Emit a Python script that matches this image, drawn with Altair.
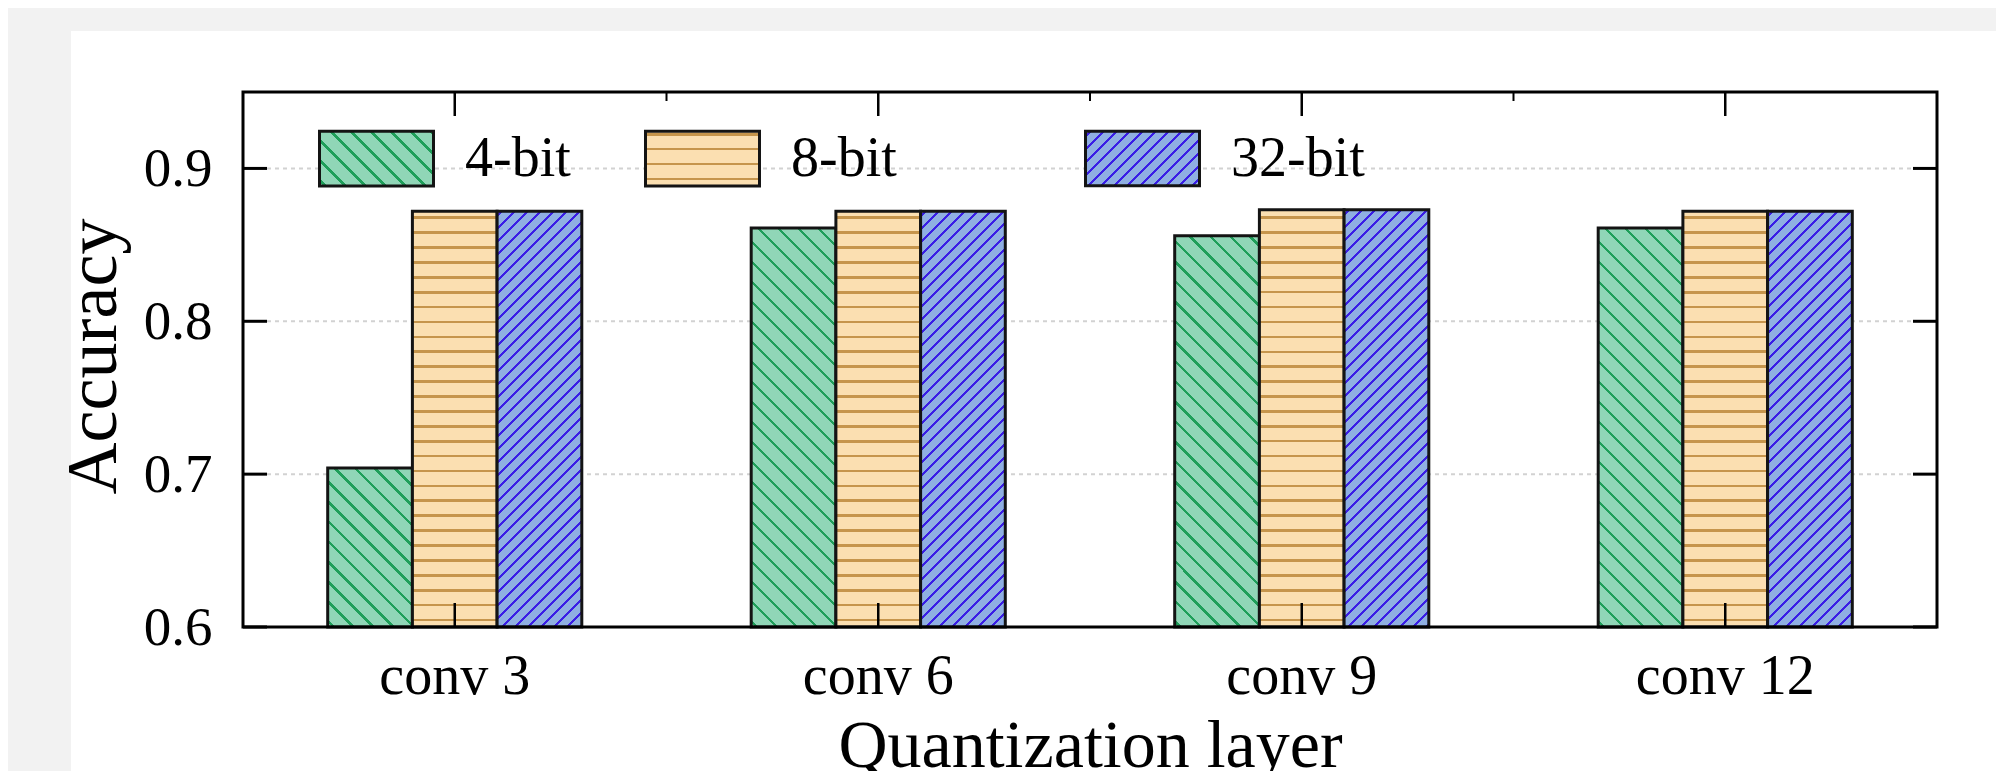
import json
import altair as alt
import pandas as pd

# ---------------- data ----------------
layers = ["conv 3", "conv 6", "conv 9", "conv 12"]
bits = ["4-bit", "8-bit", "32-bit"]
acc_4bit = [0.704, 0.861, 0.856, 0.861]
acc_8bit = [0.872, 0.872, 0.873, 0.872]
acc_32bit = [0.872, 0.872, 0.873, 0.872]
y_ticks = [0.6, 0.7, 0.8, 0.9]
grid_values = [0.7, 0.8, 0.9]

series = {"4-bit": acc_4bit, "8-bit": acc_8bit, "32-bit": acc_32bit}
rows = []
for b in bits:
    for l, v in zip(layers, series[b]):
        rows.append({"layer": l, "bits": b, "acc": v})
df = pd.DataFrame(rows)

# ---------------- layout / style ----------------
FONT = "Liberation Serif"
W, H = 1694, 535
YMIN, YMAX = 0.6, 0.95
P_IN, P_OUT = 0.4, 0.2
STEP = W / (len(layers) - P_IN + 2 * P_OUT)
BAR_W = STEP * (1 - P_IN) / len(bits)

GREEN_BG, GREEN_FG = "#90d6b7", "#1f9f5a"
TAN_BG, TAN_FG = "#fbdfb1", "#c6954c"
BLUE_BG, BLUE_FG = "#8fafe2", "#3a1ee6"
EDGE = "#141414"


def stripes(L, period, thick, bg, fg, phase):
    stops = [(0.0, bg)]
    c = phase
    while c - thick / 2 < L:
        a = max(0.0, (c - thick / 2) / L)
        b = min(1.0, (c + thick / 2) / L)
        if b > a:
            stops += [(a, bg), (a, fg), (b, fg), (b, bg)]
        c += period
    stops.append((1.0, bg))
    return [{"offset": round(o, 5), "color": col} for o, col in stops]


def grad_back(w, h):  # "\" hatch
    n = w * w + h * h
    dx = w * (w + h) / n
    dy = -h * (w + h) / n
    return {"gradient": "linear", "x1": 0, "y1": 1, "x2": round(dx, 5), "y2": round(1 + dy, 5),
            "stops": stripes(w + h, 20, 3.4, GREEN_BG, GREEN_FG, 6)}


def grad_horiz(w, h):  # "-" hatch, anchored at bottom
    return {"gradient": "linear", "x1": 0, "y1": 1, "x2": 0, "y2": 0,
            "stops": stripes(h, 14.9, 2.6, TAN_BG, TAN_FG, 7)}


def grad_fwd(w, h):  # "/" hatch
    c = (w + h) / (w * w + h * h)
    return {"gradient": "linear", "x1": 0, "y1": 0, "x2": round(w * c, 5), "y2": round(h * c, 5),
            "stops": stripes(w + h, 13, 3.0, BLUE_BG, BLUE_FG, 5)}


makers = {"4-bit": grad_back, "8-bit": grad_horiz, "32-bit": grad_fwd}


def bar_h(v):
    return (v - YMIN) / (YMAX - YMIN) * H


def bar_conditions(sel_bits):
    out = []
    for b in sel_bits:
        for l, v in zip(layers, series[b]):
            out.append({"test": f"datum.bits == '{b}' && datum.layer == '{l}'",
                        "value": makers[b](BAR_W, bar_h(v))})
    return out


SYM_W = 114
SYM_PATH = "M-1,-0.48L1,-0.48L1,0.48L-1,0.48Z"


def legend_range(sel_bits):
    return [{"expr": json.dumps(makers[b](SYM_W, SYM_W * 0.48))} for b in sel_bits]


xscale = alt.Scale(type="band", domain=layers, paddingInner=P_IN, paddingOuter=P_OUT)
yscale = alt.Scale(domain=[YMIN, YMAX], zero=False, nice=False)

xaxis = alt.Axis(title="Quantization layer", labelAngle=0, labelFont=FONT, labelFontSize=56,
                 labelColor="black", labelPadding=66, labelBaseline="alphabetic",
                 ticks=False, tickSize=0, domain=False, grid=False,
                 titleFont=FONT, titleFontSize=68, titleFontWeight="normal", titleColor="black",
                 titleX=W / 2, titleY=139, titleBaseline="alphabetic", titleAlign="center",
                 zindex=1)
yaxis = alt.Axis(title="Accuracy", values=y_ticks, format=".1f", labelFont=FONT, labelFontSize=55,
                 labelColor="black", labelPadding=31, labelFlush=False,
                 ticks=False, tickSize=0, domain=False, grid=False,
                 titleFont=FONT, titleFontSize=72, titleFontWeight="normal", titleColor="black",
                 titleAngle=270, titleX=-128, titleY=264, titleBaseline="alphabetic",
                 titleAlign="center", zindex=1)


def make_legend(x):
    return alt.Legend(orient="none", legendX=x, legendY=8, direction="horizontal", title=None,
                      labelFont=FONT, labelFontSize=56, labelColor="black", labelOffset=30,
                      labelLimit=600, columnPadding=68, symbolType=SYM_PATH,
                      symbolSize=SYM_W * SYM_W, symbolStrokeWidth=3, symbolStrokeColor=EDGE,
                      padding=0, zindex=1)


# ---------------- layers ----------------
card = alt.Chart(alt.Data(values=[{"k": 1}])).mark_rect(fill="white", strokeWidth=0).encode(
    x=alt.value(-172), x2=alt.value(W + 59), y=alt.value(-61), y2=alt.value(H + 200))

grid_df = pd.DataFrame({"v": grid_values})
grid = alt.Chart(grid_df).mark_rule(color="#d2d2d2", strokeWidth=2, strokeDash=[4, 4]).encode(
    y=alt.Y("v:Q", scale=yscale, axis=yaxis), x=alt.value(24), x2=alt.value(W - 24))


def bar_layer(sel_bits, legend_x):
    return alt.Chart(df).transform_filter(
        alt.FieldOneOfPredicate(field="bits", oneOf=sel_bits)
    ).mark_bar(stroke=EDGE, strokeWidth=3).encode(
        x=alt.X("layer:N", scale=xscale, sort=layers, axis=xaxis),
        xOffset=alt.XOffset("bits:N", scale=alt.Scale(domain=bits, paddingInner=0, paddingOuter=0)),
        y=alt.Y("acc:Q", scale=yscale, axis=yaxis),
        y2=alt.Y2(datum=YMIN),
        fill=alt.Fill("bits:N", scale=alt.Scale(domain=sel_bits, range=legend_range(sel_bits)),
                      legend=make_legend(legend_x), condition=bar_conditions(sel_bits)),
    )


bars_a = bar_layer(bits[:2], 75)
bars_b = bar_layer(bits[2:], 841)

frame = alt.Chart(alt.Data(values=[{"k": 1}])).mark_rect(
    fill="transparent", stroke="black", strokeWidth=3).encode(
    x=alt.value(0), x2=alt.value(W), y=alt.value(0), y2=alt.value(H))

yt_df = pd.DataFrame({"v": y_ticks})
ytick_l = alt.Chart(yt_df).mark_rule(color="black", strokeWidth=3).encode(
    y=alt.Y("v:Q", scale=yscale, axis=yaxis), x=alt.value(0), x2=alt.value(24))
ytick_r = alt.Chart(yt_df).mark_rule(color="black", strokeWidth=3).encode(
    y=alt.Y("v:Q", scale=yscale, axis=yaxis), x=alt.value(W - 24), x2=alt.value(W))

xt_df = pd.DataFrame({"layer": layers})
xtick_b = alt.Chart(xt_df).mark_rule(color="black", strokeWidth=2.5).encode(
    x=alt.X("layer:N", scale=xscale, sort=layers, bandPosition=0.5, axis=xaxis),
    y=alt.value(H - 24), y2=alt.value(H))
xtick_t = alt.Chart(xt_df).mark_rule(color="black", strokeWidth=2.5).encode(
    x=alt.X("layer:N", scale=xscale, sort=layers, bandPosition=0.5, axis=xaxis),
    y=alt.value(0), y2=alt.value(24))
xminor_df = pd.DataFrame({"layer": layers[1:]})
xminor_t = alt.Chart(xminor_df).mark_rule(color="black", strokeWidth=2).encode(
    x=alt.X("layer:N", scale=xscale, sort=layers, bandPosition=0, axis=xaxis),
    xOffset=alt.value(-STEP * P_IN / 2),
    y=alt.value(0), y2=alt.value(9))

chart = alt.layer(card, grid, bars_a, bars_b, frame, ytick_l, ytick_r, xtick_b, xtick_t,
                  xminor_t).resolve_scale(fill="independent").properties(
    width=W, height=H,
    background="#f2f2f2",
    padding={"left": 235, "top": 84, "right": 59, "bottom": 144},
    autosize=alt.AutoSizeParams(type="none"),
).configure_view(strokeWidth=0).configure(font=FONT)

chart.save("out.html", embed_options={"renderer": "svg", "actions": False})
